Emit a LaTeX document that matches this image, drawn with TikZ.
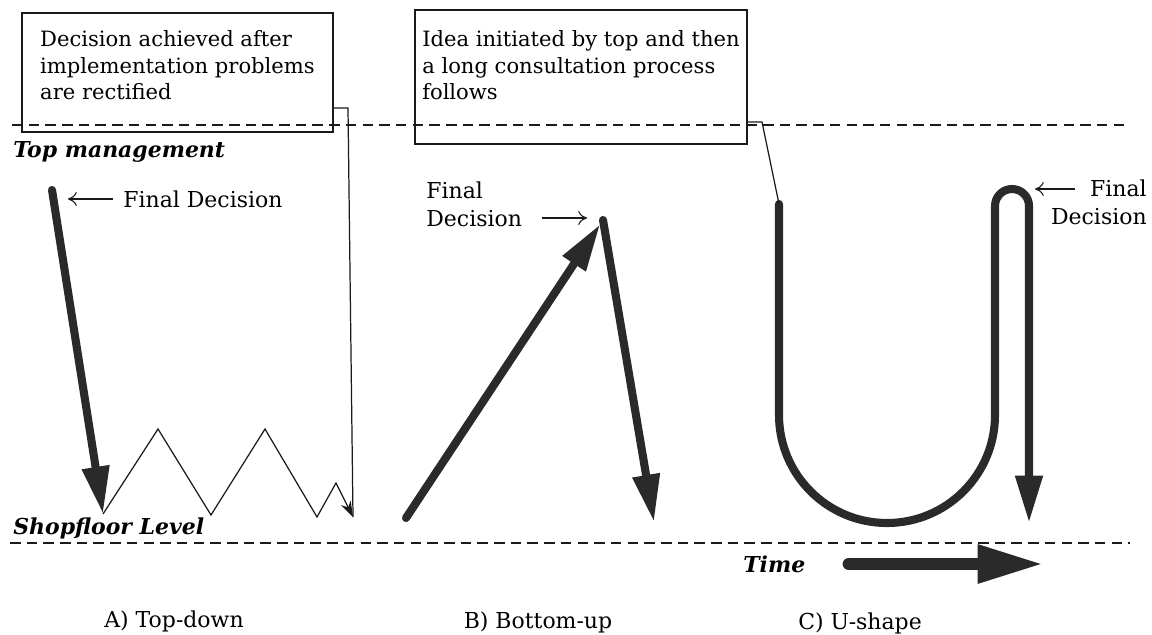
\documentclass[tikz,border=0pt]{standalone}
\usepackage{fontspec}
\setmainfont{DejaVu Serif}
\usepackage{tikz}
\usetikzlibrary{arrows.meta, calc, positioning}
\definecolor{FlowGray}{HTML}{2A2A2A}
\definecolor{InkBlack}{HTML}{1A1A1A}

\tikzset{
  callout/.style={draw=InkBlack, line width=0.8pt, align=left, inner sep=4pt,
                  text depth=4pt, font=\fontsize{12}{15.2}\selectfont},
  caption/.style={inner sep=0pt, font=\fontsize{12.5}{16}\selectfont},
  level/.style={inner sep=0pt, anchor=base west,
                font=\fontsize{12.5}{16}\selectfont\bfseries\itshape},
  flow/.style={draw=FlowGray, line width=4.6pt, line cap=round, line join=round},
  flowtip/.style={-{Triangle[length=0.95cm, width=0.52cm]}},
  pointer/.style={draw=InkBlack, line width=0.6pt, -{To[length=5pt, width=8pt]}},
  lead/.style={draw=InkBlack, line width=0.7pt},
  levelline/.style={draw=InkBlack, line width=0.6pt, dash pattern=on 6pt off 3.5pt}
}

\begin{document}
\begin{tikzpicture}[x=0.02cm, y=-0.02cm]
\useasboundingbox (0,0) rectangle (1152,635);

% levels
\draw[levelline] (12,125) -- (1130,125);
\draw[levelline] (10,543) -- (1130,543);
\node[level] (topLvl) at (13,157) {Top management};
\node[level] (shopLvl) at (13,534) {Shopfloor Level};

% callouts
\node[callout, text height=35pt, minimum width=6.22cm, minimum height=2.38cm] (boxA) at (177.5,72.5)
  {Decision achieved after\\implementation problems\\are rectified};
\node[callout, text height=30pt, minimum width=6.64cm, minimum height=2.68cm] (boxC) at (581,77)
  {Idea initiated by top and then\\a long consultation process\\follows};

% A) top-down
\coordinate (aStart) at (52,190);
\coordinate (aTip) at (103,514);
\coordinate (aEnd) at (353,517);
\coordinate (kneeA) at (348,108);
\draw[flow, flowtip] (aStart) -- (aTip);
\draw[lead, -{Stealth[length=9pt, width=6pt]}] (aTip) -- (158,429) -- (211,515)
  -- (265,429) -- (317,517) -- (336,483) -- (aEnd);
\draw[lead] (boxA.east |- kneeA) -- (kneeA) -- (aEnd);
\node[caption, anchor=base west] (fdA) at (123,207) {Final Decision};
\draw[pointer] ([xshift=-0.2cm]fdA.west |- aStart) ++(0,9) -- ++(-45,0);

% B) bottom-up
\coordinate (bStart) at (406,518);
\coordinate (bPeak) at (603,220);
\coordinate (bTip) at (654,522);
\draw[flow, flowtip, shorten >=0.1cm] (bStart) -- (bPeak);
\draw[flow, flowtip] (bPeak) -- (bTip);
\node[caption, align=left, anchor=north west] (fdB) at (426,181) {Final\\Decision};
\draw[pointer] ($(fdB.east |- bPeak)+(20,-2)$) -- ($(bPeak)+(-16,-2)$);

% C) U-shape
\coordinate (cStart) at (779,204);
\coordinate (kneeC) at (762,122);
\coordinate (cHump) at (1029,189);
\draw[flow, flowtip] (cStart) -- (779,415) arc (180:0:108) -- (995,206)
  arc (180:360:17) -- (1029,523);
\draw[lead] (boxC.east |- kneeC) -- (kneeC) -- (cStart);
\node[caption, align=right, anchor=north east] (fdC) at (1147,179) {Final\\Decision};
\draw[pointer] ($(cHump)+(46,0)$) -- ($(cHump)+(6,0)$);

% time
\node[level] (timeLbl) at (743,572) {Time};
\draw[draw=FlowGray, line width=6.8pt, line cap=round,
      -{Triangle[length=1.32cm, width=0.72cm]}]
  ($(timeLbl.base east)+(43,-8)$) -- ++(195,0);

% captions
\node[caption, anchor=base] (capA) at (174,627) {A) Top-down};
\node[caption, anchor=base] (capB) at (538,628) {B) Bottom-up};
\node[caption, anchor=base] (capC) at (860,629) {C) U-shape};
\end{tikzpicture}
\end{document}
